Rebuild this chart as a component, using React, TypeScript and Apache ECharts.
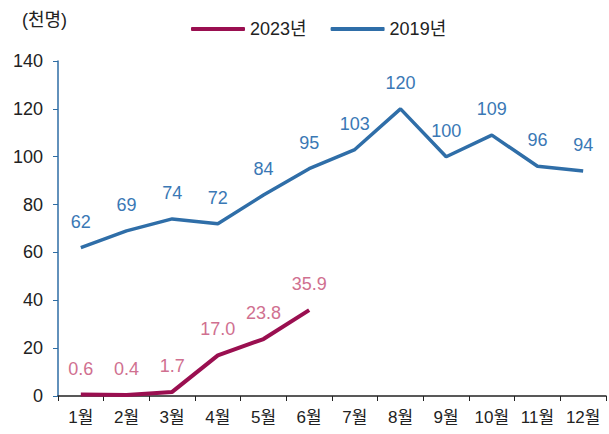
import React, { useEffect, useRef } from "react";
import * as echarts from "echarts";

const categories = ["1월", "2월", "3월", "4월", "5월", "6월", "7월", "8월", "9월", "10월", "11월", "12월"];
const series2023 = [0.6, 0.4, 1.7, 17.0, 23.8, 35.9];
const series2019 = [62, 69, 74, 72, 84, 95, 103, 120, 100, 109, 96, 94];
const seriesNames = ["2023년", "2019년"];
const unitLabel = "(천명)";

const FONT = "'Liberation Sans', 'Noto Sans CJK KR', sans-serif";
const FS = 18;

export default function App() {
  const ref = useRef<HTMLDivElement>(null);
  useEffect(() => {
    if (!ref.current) return;
    const chart = echarts.init(ref.current, undefined, { renderer: "svg" });
    chart.setOption({
      animation: false,
      textStyle: { fontFamily: FONT },
      graphic: [
        {
          type: "text",
          left: 22,
          top: 11,
          style: { text: unitLabel, fontSize: FS, fill: "#222", fontFamily: FONT },
        },
      ],
      legend: {
        left: 186,
        top: 15,
        itemWidth: 54,
        itemHeight: 4,
        itemGap: 24,
        icon: "roundRect",
        textStyle: { fontSize: FS, color: "#222", fontFamily: FONT, padding: [0, 0, 0, 0] },
        data: seriesNames,
      },
      grid: { left: 58, right: 3, top: 61, bottom: 38, containLabel: false },
      xAxis: {
        type: "category",
        data: categories,
        boundaryGap: true,
        axisLine: { lineStyle: { color: "#222", width: 1.5 } },
        axisTick: { show: true, length: 5, lineStyle: { color: "#222" } },
        axisLabel: { fontSize: 17, color: "#222", margin: 13, fontFamily: FONT, interval: 0, hideOverlap: false },
      },
      yAxis: {
        type: "value",
        min: 0,
        max: 140,
        interval: 20,
        splitLine: { show: false },
        axisLine: { show: true, lineStyle: { color: "#2E6DA4", width: 1.5 } },
        axisTick: { show: true, length: 5, lineStyle: { color: "#2E6DA4" } },
        axisLabel: { fontSize: FS, color: "#222", margin: 15, fontFamily: FONT },
      },
      series: [
        {
          name: seriesNames[0],
          type: "line",
          data: series2023,
          symbol: "circle",
          symbolSize: 0,
          showSymbol: true,
          lineStyle: { color: "#9A0F50", width: 4 },
          itemStyle: { color: "#9A0F50" },
          label: {
            show: true,
            position: "top",
            distance: 17,
            fontSize: FS,
            color: "#D07090",
            fontFamily: FONT,
            formatter: (p: any) => Number(p.value).toFixed(1),
          },
        },
        {
          name: seriesNames[1],
          type: "line",
          data: series2019,
          symbol: "circle",
          symbolSize: 0,
          showSymbol: true,
          lineStyle: { color: "#2F6EA8", width: 3.5 },
          itemStyle: { color: "#2F6EA8" },
          label: {
            show: true,
            position: "top",
            distance: 17,
            fontSize: FS,
            color: "#3A78B5",
            fontFamily: FONT,
          },
        },
      ],
    });
    return () => chart.dispose();
  }, []);
  return <div ref={ref} style={{ width: 609, height: 434, position: "absolute", left: 0, top: 0 }} />;
}
